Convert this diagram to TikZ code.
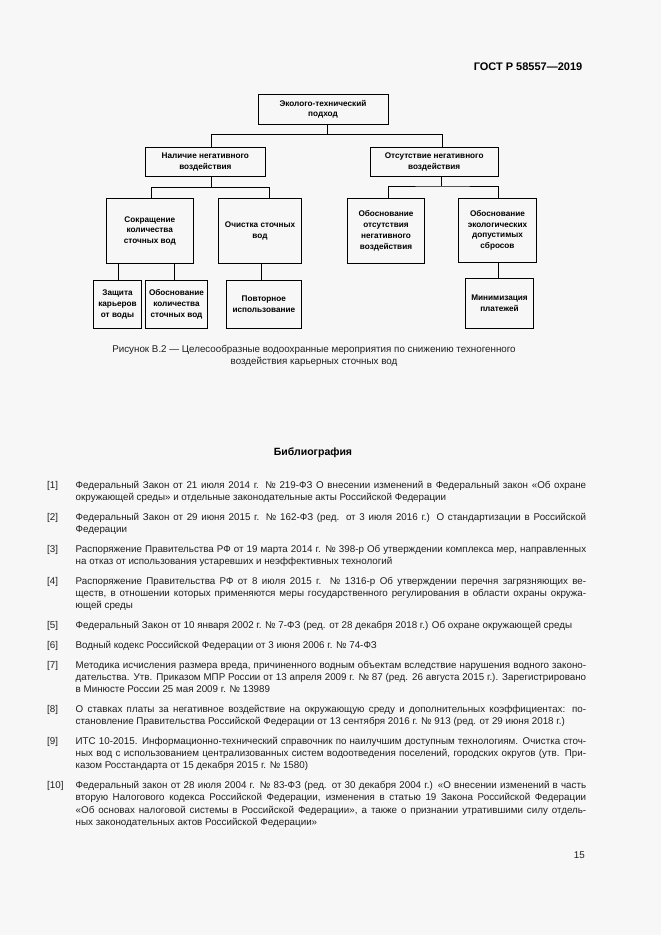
\documentclass[tikz,border=0pt]{standalone}
\usepackage{fontspec}
\setmainfont{Liberation Sans}
\definecolor{pagebg}{RGB}{247,247,247}
\definecolor{txt}{RGB}{30,30,30}
\newcommand\boxfont{\bfseries\fontsize{8.2}{10.8}\selectfont}
\newcommand\bibfont{\fontsize{9.8}{12.2}\selectfont}
\newcommand\bibentry[2]{\noindent\hangindent=28.5pt\hangafter=1\relax\makebox[28.5pt][l]{[#1]}\strut #2\par}
\tikzset{
  box/.style={draw=black, line width=1pt, inner sep=0pt, align=center, font=\boxfont, text=black},
  conn/.style={draw=black, line width=1pt},
  bib/.style={anchor=north west, inner sep=0pt, text width=539pt, align=justify, font=\bibfont, text=txt},
}
\begin{document}
\begin{tikzpicture}[x=1pt,y=-1pt]
\tolerance=10000 \pretolerance=-1 \hbadness=10000 \hyphenpenalty=10000 \exhyphenpenalty=10000
\fill[pagebg] (0,0) rectangle (661,935);
\useasboundingbox (0,0) rectangle (661,935);

% header
\node[anchor=east, inner sep=0pt, font=\bfseries\fontsize{11}{13}\selectfont, text=black] (hdr) at (582.5,66.7) {ГОСТ Р 58557—2019};

% diagram boxes
\node[box, minimum width=130pt, minimum height=30pt] (top) at (323,109.3) {Эколого-технический\\подход};
\node[box, minimum width=119.3pt, minimum height=28.7pt] (L2) at (205.35,161.65) {Наличие негативного\\воздействия};
\node[box, minimum width=128.3pt, minimum height=28.7pt] (R2) at (434.15,161.65) {Отсутствие негативного\\воздействия};
\node[box, minimum width=87pt, minimum height=65pt] (A) at (149.8,230.8) {Сокращение\\количества\\сточных вод};
\node[box, minimum width=83.4pt, minimum height=65pt] (B) at (260,230.8) {Очистка сточных\\вод};
\node[box, minimum width=77.4pt, minimum height=65pt] (C) at (386,230.8) {Обоснование\\отсутствия\\негативного\\воздействия};
\node[box, minimum width=78.4pt, minimum height=64pt] (D) at (497.5,230.3) {Обоснование\\экологических\\допустимых\\сбросов};
\node[box, minimum width=48.4pt, minimum height=48.3pt] (A1) at (117.5,304.15) {Защита\\карьеров\\от воды};
\node[box, minimum width=62.4pt, minimum height=48.3pt] (A2) at (176.5,304.15) {Обоснование\\количества\\сточных вод};
\node[box, minimum width=75.7pt, minimum height=48.3pt] (B1) at (263.85,304.15) {Повторное\\использование};
\node[box, minimum width=68.4pt, minimum height=50pt] (D1) at (499.5,303.3) {Минимизация\\платежей};

% connectors
\coordinate (j0) at (327.3,134.3);
\coordinate (j1) at (211.7,187.3);
\coordinate (j2) at (441.7,186);
\draw[conn] (top.south -| j0) -- (j0);
\draw[conn] ([xshift=6.3pt]L2.north) |- (j0) -| ([xshift=8.2pt]R2.north);
\draw[conn] (L2.south -| j1) -- (j1);
\draw[conn] ([xshift=1.9pt]A.north) |- (j1) -| ([xshift=9.3pt]B.north);
\draw[conn] (R2.south -| j2) -- (j2);
\draw[conn] ([xshift=2.7pt]C.north) |- (j2) -| ([xshift=0.8pt]D.north);
\draw[conn] ([xshift=0.8pt]A1.north) -- ([xshift=0.8pt]A1.north |- A.south);
\draw[conn] ([xshift=-2.2pt]A2.north) -- ([xshift=-2.2pt]A2.north |- A.south);
\draw[conn] ([xshift=-2.2pt]B1.north) -- ([xshift=-2.2pt]B1.north |- B.south);
\draw[conn] ([xshift=-1.2pt]D1.north) -- ([xshift=-1.2pt]D1.north |- D.south);

% caption
\node[align=center, inner sep=0pt, font=\fontsize{9.8}{11.4}\selectfont, text=txt] (cap) at (314,356) {Рисунок В.2 — Целесообразные водоохранные мероприятия по снижению техногенного\\воздействия карьерных сточных вод};

% bibliography
\node[inner sep=0pt, font=\bfseries\fontsize{10.5}{12}\selectfont, text=black] (btitle) at (313,453) {Библиография};

\node[bib] (b1) at (47,479.5) {\bibentry{1}{Федеральный Закон от 21 июля 2014 г. № 219-ФЗ О внесении изменений в Федеральный закон «Об охране\linebreak окружающей среды» и отдельные законодательные акты Российской Федерации}};
\node[bib] (b2) at (47,511.5) {\bibentry{2}{Федеральный Закон от 29 июня 2015 г. № 162-ФЗ (ред. от 3 июля 2016 г.) О стандартизации в Российской\linebreak Федерации}};
\node[bib] (b3) at (47,543.5) {\bibentry{3}{Распоряжение Правительства РФ от 19 марта 2014 г. № 398-р Об утверждении комплекса мер, направленных\linebreak на отказ от использования устаревших и неэффективных технологий}};
\node[bib] (b4) at (47,575.5) {\bibentry{4}{Распоряжение Правительства РФ от 8 июля 2015 г. № 1316-р Об утверждении перечня загрязняющих ве-\linebreak ществ, в отношении которых применяются меры государственного регулирования в области охраны окружа-\linebreak ющей среды}};
\node[bib] (b5) at (47,619.9) {\bibentry{5}{Федеральный Закон от 10 января 2002 г. № 7-ФЗ (ред. от 28 декабря 2018 г.) Об охране окружающей среды}};
\node[bib] (b6) at (47,639.7) {\bibentry{6}{Водный кодекс Российской Федерации от 3 июня 2006 г. № 74-ФЗ}};
\node[bib] (b7) at (47,659.5) {\bibentry{7}{Методика исчисления размера вреда, причиненного водным объектам вследствие нарушения водного законо-\linebreak дательства. Утв. Приказом МПР России от 13 апреля 2009 г. № 87 (ред. 26 августа 2015 г.). Зарегистрировано\linebreak в Минюсте России 25 мая 2009 г. № 13989}};
\node[bib] (b8) at (47,703.7) {\bibentry{8}{О ставках платы за негативное воздействие на окружающую среду и дополнительных коэффициентах: по-\linebreak становление Правительства Российской Федерации от 13 сентября 2016 г. № 913 (ред. от 29 июня 2018 г.)}};
\node[bib] (b9) at (47,735.7) {\bibentry{9}{ИТС 10-2015. Информационно-технический справочник по наилучшим доступным технологиям. Очистка сточ-\linebreak ных вод с использованием централизованных систем водоотведения поселений, городских округов (утв. При-\linebreak казом Росстандарта от 15 декабря 2015 г. № 1580)}};
\node[bib] (b10) at (47,779.9) {\bibentry{10}{Федеральный закон от 28 июля 2004 г. № 83-ФЗ (ред. от 30 декабря 2004 г.) «О внесении изменений в часть\linebreak вторую Налогового кодекса Российской Федерации, изменения в статью 19 Закона Российской Федерации\linebreak «Об основах налоговой системы в Российской Федерации», а также о признании утратившими силу отдель-\linebreak ных законодательных актов Российской Федерации»}};

% page number
\node[anchor=east, inner sep=0pt, font=\fontsize{9.8}{12}\selectfont, text=txt] (pnum) at (585,855) {15};
\end{tikzpicture}
\end{document}
